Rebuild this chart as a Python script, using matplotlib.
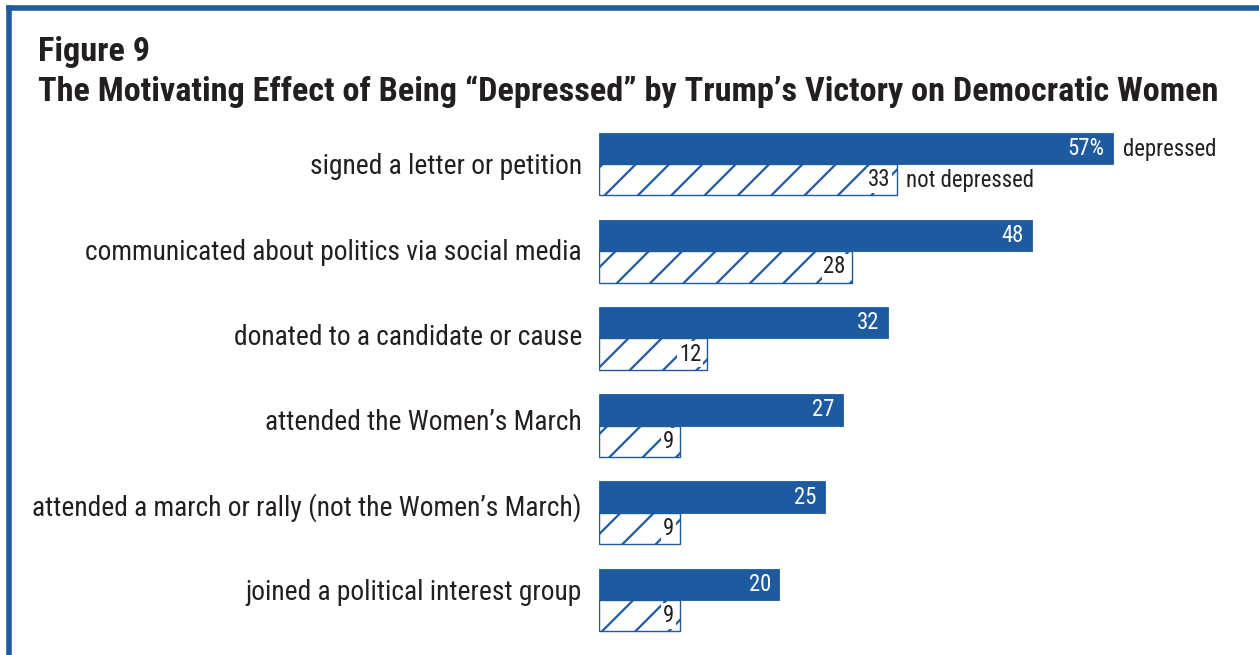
import matplotlib
matplotlib.use("Agg")
import matplotlib.pyplot as plt
from matplotlib import transforms
from matplotlib.lines import Line2D

# ---- data ----
categories = [
    "signed a letter or petition",
    "communicated about politics via social media",
    "donated to a candidate or cause",
    "attended the Women\u2019s March",
    "attended a march or rally (not the Women\u2019s March)",
    "joined a political interest group",
]
depressed = [57, 48, 32, 27, 25, 20]
not_depressed = [33, 28, 12, 9, 9, 9]
series_names = ["depressed", "not depressed"]
title_line1 = "Figure 9"
title_line2 = "The Motivating Effect of Being \u201cDepressed\u201d by Trump\u2019s Victory on Democratic Women"

# ---- style ----
BLUE = "#1e5aa0"
TXT = "#231f20"
W, H, DPI = 1259, 655, 200
plt.rcParams["font.family"] = ["Roboto Condensed", "DejaVu Sans"]
plt.rcParams["hatch.linewidth"] = 0.8
plt.rcParams["hatch.color"] = BLUE

fig = plt.figure(figsize=(W / DPI, H / DPI), dpi=DPI)

def fx(px):
    return px / W

def fy(py):
    return 1 - py / H

# axes: data 0 at x=599px, 9.02 px per unit; group i boundary at 164 + 87.2*i px
x0_px, ppu = 599, 9.02
xmax = 70
ax_left, ax_right = fx(x0_px), fx(x0_px + ppu * xmax)
top_px, bot_px = 120, 645
grp0, gstep = 164, 87.2
ax = fig.add_axes([ax_left, fy(bot_px), ax_right - ax_left, (bot_px - top_px) / H])
ax.set_xlim(0, xmax)
ax.set_ylim((bot_px - grp0) / gstep, (top_px - grp0) / gstep)
ax.axis("off")

bh = 0.36
pos = list(range(len(categories)))
y_dep = [p - bh / 2 for p in pos]
y_not = [p + bh / 2 for p in pos]

ax.barh(y_dep, depressed, height=bh, color=BLUE, edgecolor=BLUE, linewidth=0.3)
ax.barh(y_not, not_depressed, height=bh, color="white", edgecolor=BLUE,
        hatch="//", linewidth=0.5)

off = transforms.offset_copy
px = 72 / DPI
for i, (d, n) in enumerate(zip(depressed, not_depressed)):
    lab = f"{d}%" if i == 0 else f"{d}"
    ax.text(d, y_dep[i], lab, ha="right", va="center", color="white", fontsize=8.2,
            transform=off(ax.transData, fig=fig, x=-8.5 * px, y=0, units="points"))
    ax.text(n, y_not[i], f"{n}", ha="right", va="center", color=TXT, fontsize=8.2,
            bbox=dict(facecolor="white", edgecolor="none", pad=0.6),
            transform=off(ax.transData, fig=fig, x=-6 * px, y=0, units="points"))

# legend-style series labels next to the first group
ax.text(depressed[0], y_dep[0], series_names[0], ha="left", va="center", color=TXT, fontsize=8.2,
        transform=off(ax.transData, fig=fig, x=10 * px, y=-1 * px, units="points"))
ax.text(not_depressed[0], y_not[0], series_names[1], ha="left", va="center", color=TXT, fontsize=8.2,
        transform=off(ax.transData, fig=fig, x=9 * px, y=-1 * px, units="points"))

# category labels (rows drift up slightly relative to bars in the reference)
bt0 = transforms.blended_transform_factory(fig.transFigure, ax.transData)
for i, c in enumerate(categories):
    bt = off(bt0, fig=fig, x=0, y=(-3 + 2 * i) * px, units="points")
    ax.text(fx(582), pos[i], c, ha="right", va="center", color=TXT, fontsize=9.9,
            transform=bt)

# titles
fig.text(fx(38), fy(61), title_line1, ha="left", va="baseline", color=TXT,
         fontsize=12.35, fontweight="bold")
fig.text(fx(38), fy(101), title_line2, ha="left", va="baseline", color=TXT,
         fontsize=12.35, fontweight="bold")

# frame (top and left edges)
lw = 5.5 * px
fig.add_artist(Line2D([fx(8.5), fx(8.5)], [fy(7.5), -0.05], transform=fig.transFigure,
                      color=BLUE, linewidth=lw, solid_capstyle="projecting"))
fig.add_artist(Line2D([fx(8.5), 1.05], [fy(7.5), fy(7.5)], transform=fig.transFigure,
                      color=BLUE, linewidth=lw, solid_capstyle="projecting"))

fig.savefig("out.png", dpi=DPI)
